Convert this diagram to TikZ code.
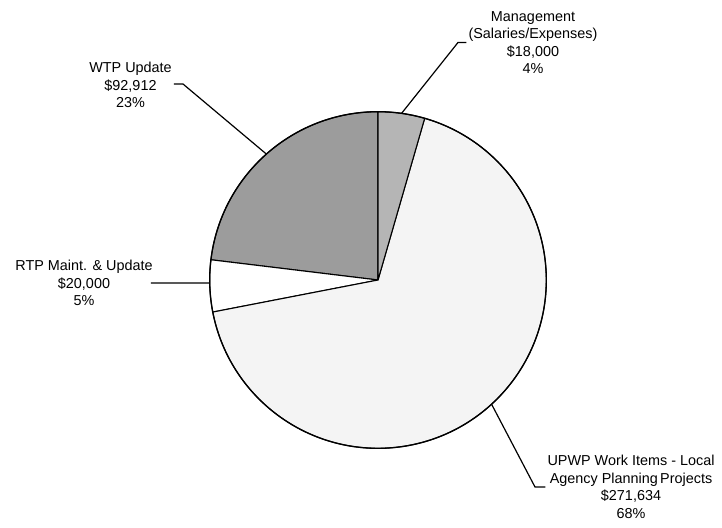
\documentclass[tikz,border=0pt]{standalone}
\usepackage{fontspec}
\setmainfont{Liberation Sans}
\definecolor{mgmtgray}{gray}{0.71}
\definecolor{wtpgray}{gray}{0.61}
\definecolor{upwpgray}{gray}{0.955}
\tikzset{
  slice/.style={draw=black,line width=1.1pt,line join=round},
  leader/.style={draw=black,line width=1.2pt},
  pielabel/.style={align=center,inner sep=2pt,font=\fontsize{14.4}{17.5}\selectfont}
}
\newcommand{\rad}{168.3}

\begin{document}
\begin{tikzpicture}[x=1pt,y=1pt]
    \useasboundingbox (0,0) rectangle (722,-527);
    %% Slices
    \begin{scope}[shift={(378,-280)}]
        \draw[slice,fill=wtpgray] (0,0) -- (90:\rad) arc (90:173.09:\rad) -- cycle;
        \draw[slice,fill=white] (0,0) -- (173.09:\rad) arc (173.09:190.98:\rad) -- cycle;
        \draw[slice,fill=upwpgray] (0,0) -- (190.98:\rad) arc (190.98:433.9:\rad) -- cycle;
        \draw[slice,fill=mgmtgray] (0,0) -- (73.9:\rad) arc (73.9:90:\rad) -- cycle;
        \draw[line width=1.3pt] (0,0) circle (\rad);
        %% Rim points
        \coordinate (mgmtrim) at (81.95:\rad);
        \coordinate (wtprim) at (131.55:\rad);
        \coordinate (rtprim) at (181:\rad);
        \coordinate (upwprim) at (-47.56:\rad);
    \end{scope}
    %% Labels
    \node[pielabel] (mgmt) at (533,-42.5) {Management\\(Salaries/Expenses)\\\$18,000\\4\%};
    \node[pielabel] (wtp) at (130.5,-85) {WTP Update\\\$92,912\\23\%};
    \node[pielabel] (rtp) at (84,-283) {RTP Maint. \& Update\\\$20,000\\5\%};
    \node[pielabel] (upwp) at (631,-487) {UPWP Work Items - Local\\Agency Planning\,Projects\\\$271,634\\68\%};
    %% Leaders
    \coordinate (mgmtbend) at (458,-42.5);
    \coordinate (wtpbend) at (183,-84);
    \coordinate (upwpbend) at (535,-487);
    \draw[leader] (mgmtrim) -- (mgmtbend) -- (mgmt.west);
    \draw[leader] (wtprim) -- (wtpbend) -- (wtp.east |- wtpbend);
    \draw[leader] (rtprim) -- ([xshift=-4pt]rtp.east);
    \draw[leader] (upwprim) -- (upwpbend) -- (upwp.west);
\end{tikzpicture}
\end{document}
